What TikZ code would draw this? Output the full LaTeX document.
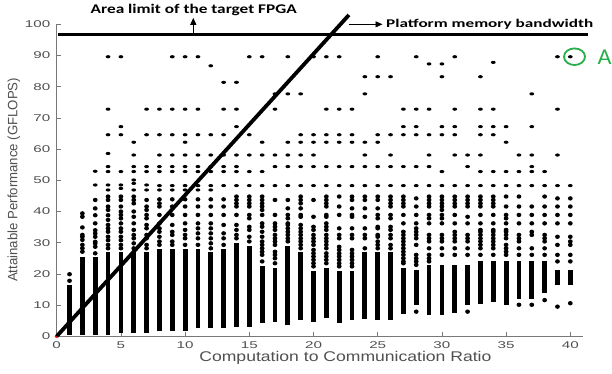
\documentclass[tikz,border=0pt]{standalone}
\usepackage{fontspec}
\setmainfont{Liberation Sans}
\newfontfamily\calib{Carlito}
\usepackage{graphicx}
\usetikzlibrary{arrows.meta}
\definecolor{axgray}{RGB}{120,120,120}
\definecolor{lblgray}{RGB}{80,80,80}
\definecolor{agreen}{RGB}{40,175,75}
\newcommand\ticklbl[1]{\scalebox{1.55}[1]{\fontsize{9.8}{10}\selectfont #1}}
\begin{document}
\begin{tikzpicture}[x=1pt,y=1pt,
  databar/.style={line width=4.8pt},
  axisline/.style={axgray,line width=0.8pt},
  thickline/.style={black,line width=3.8pt},
  limitline/.style={black,line width=2.6pt},
  annarrow/.style={black,line width=0.9pt,-{Triangle[width=6pt,length=7pt]}},
  annot/.style={inner sep=0pt,anchor=base,font=\calib\bfseries},
  ticklab/.style={inner sep=0pt,text=lblgray}]
\useasboundingbox (0,0) rectangle (612,373);
\fill[white] (0,0) rectangle (612,373);
\begin{scope}[shift={(56.7,36.7)},x=12.84pt,y=3.12pt]
  % axes
  \draw[axisline] (0,100) -- (0,0) -- (41,0);
  \foreach \yv in {0,10,...,100} {
    \draw[axisline] (0,\yv) -- ++(4pt,0);
    \node[ticklab,anchor=east] (yt\yv) at ([xshift=-6.2pt]0,\yv) {\ticklbl{\yv}};
  }
  \foreach \xv in {0,5,...,40} {
    \draw[axisline] (\xv,0) -- ++(0,4pt);
    \node[ticklab,anchor=north] (xt\xv) at ([yshift=-5.6pt]\xv,0) {\ticklbl{\xv}};
  }
  % data
  \fill[red] (0,0) ellipse [x radius=2pt,y radius=1.5pt];
  \foreach \k/\b/\d/\vals in {
1/0.5/16.5/{17.8,19.9},
2/0.4/25.5/{27.1,28.2,29.3,30.9,31.9,32.5,34.9,38.3,39.4},
3/0.4/25.5/{26.6,28.7,29.8,30.3,31.9,33.0,34.0,36.2,38.8,41.0,43.7,48.5,52.9},
4/0.4/27/{28.2,29.3,30.8,31.9,33.5,34.6,35.7,37.3,38.8,40.5,41.6,43.7,44.8,46.9,48.5,52.8,54.4,58.6,64.6,72.8,89.6},
5/1.0/27/{28.2,29.3,30.8,31.9,33.5,34.6,36.2,37.8,38.9,40.0,41.6,43.7,44.8,47.4,48.5,52.8,64.6,67.2,89.6},
6/1.2/27/{28.2,29.8,31.4,32.5,34.1,36.2,38.3,40.0,42.6,43.7,44.8,46.9,49.0,50.1,52.8,54.4,58.1,62.2},
7/1.2/27/{28.2,29.3,31.4,32.5,34.6,35.7,37.8,38.9,40.5,41.6,43.7,46.9,48.5,52.8,54.4,64.6,72.8},
8/1.8/28/{29.3,30.4,31.9,33.5,34.6,36.2,38.9,41.6,42.6,43.9,46.9,48.3,52.8,54.4,58.1,64.6,72.8},
9/1.8/28/{29.3,30.4,32.5,33.5,35.7,38.9,41.6,43.9,46.9,48.3,52.8,54.4,58.1,64.6,72.8,89.6},
10/1.8/28/{29.3,31.4,32.5,34.1,36.2,38.9,41.6,43.9,46.9,48.3,52.8,54.4,58.1,62.2,64.6,72.8,89.6},
11/2.6/28/{29.3,31.4,33.0,34.6,36.2,38.9,41.6,43.9,46.9,48.3,52.8,54.4,58.1,64.6,72.8,89.6},
12/2.6/27/{28.2,29.8,31.4,33.0,34.6,36.2,38.9,41.6,43.9,46.9,48.3,52.8,54.4,58.1,64.6,86.7},
13/2.6/28/{29.3,31.4,33.0,35.7,38.9,41.6,43.9,48.3,52.8,54.4,58.1,64.6,72.8,81.4},
14/3.1/30/{31.4,32.5,34.1,35.7,38.9,41.6,42.6,43.7,44.8,48.3,52.8,54.4,58.1,67.2,72.8,81.4},
15/3.0/29/{30.4,31.9,34.1,35.1,37.8,38.9,41.6,42.6,43.7,44.8,48.3,52.8,58.1,64.6,89.6},
16/4.2/22.6/{24.0,26.1,27.1,28.2,29.3,30.4,31.9,33.5,35.1,36.2,38.9,40.5,41.6,42.6,43.7,44.8,48.3,52.8,58.1,62.2,89.6},
17/4.6/21.8/{23.4,25.0,26.1,27.1,29.3,30.4,31.4,32.5,34.1,35.1,36.2,38.9,43.7,48.3,54.4,58.1,72.8,77.7},
18/3.5/29/{30.4,31.4,32.5,33.5,34.6,35.7,36.2,37.8,38.9,41.0,43.7,48.3,54.4,58.1,62.2,77.7,89.6},
19/5.3/27/{28.2,29.3,30.4,31.4,32.5,33.5,34.6,35.7,38.3,38.9,41.0,42.6,43.7,44.8,48.3,54.4,58.1,62.2,64.6,77.7},
20/4.6/20.8/{22.4,23.4,24.5,25.6,26.6,27.7,29.3,30.4,31.4,32.5,34.1,35.1,38.3,43.7,48.3,54.4,58.1,62.2,64.6,89.6},
21/5.8/22/{23.4,24.5,25.6,26.6,28.2,29.3,30.4,31.4,32.5,34.1,35.1,36.2,38.3,38.9,41.6,42.6,43.7,44.8,48.3,54.4,62.2,64.6,72.8,89.6},
22/4.4/21/{22.4,23.4,24.5,25.6,26.6,27.7,28.7,31.4,32.5,34.6,38.9,41.6,44.8,48.3,54.4,62.2,64.6,72.8,89.6},
23/5.2/21/{22.4,23.4,24.5,25.6,26.6,27.7,31.4,32.5,34.6,38.3,38.9,41.0,43.7,44.8,48.3,54.4,62.2,64.6,72.8},
24/5.5/27/{28.2,31.4,32.5,34.6,38.3,41.0,43.7,44.8,48.3,54.4,58.1,62.2,77.7,83.2},
25/5.2/27/{28.2,29.3,30.4,31.9,32.5,34.6,35.1,37.8,38.9,41.0,43.7,44.8,48.3,54.4,62.2,64.6,83.2,89.6},
26/5.2/27/{28.2,29.3,31.4,32.5,34.1,35.1,37.8,38.9,41.6,42.6,43.7,44.8,48.3,54.4,58.1,64.6,83.2},
27/7.0/21.8/{23.4,24.0,25.0,26.1,27.1,28.2,29.3,30.4,31.4,32.5,33.5,36.2,38.9,41.6,42.6,43.7,44.8,48.3,54.4,64.6,67.2,72.8},
28/10.1/21.3/{7.9,22.9,24.0,25.0,26.1,29.3,31.4,32.5,33.5,34.6,36.2,38.9,41.6,44.2,48.3,54.4,64.6,67.2,72.8,89.6},
29/6.8/22.9/{24.0,25.0,26.1,28.2,30.4,31.4,32.5,36.2,37.8,38.9,41.6,42.6,43.7,44.8,48.3,54.4,58.1,64.6,72.8,87.3},
30/6.8/22.9/{26.1,28.2,30.4,31.4,32.5,36.2,37.8,38.9,40.5,41.6,42.6,43.7,44.8,48.3,52.8,64.6,67.2,83.2,87.3},
31/7.5/22.9/{26.1,28.2,30.4,31.4,32.5,33.5,36.2,38.9,41.6,42.6,43.7,44.8,48.3,58.1,64.6,67.2,72.8,89.6},
32/10.1/22.9/{7.9,26.1,28.2,30.4,31.4,32.5,36.2,38.3,41.6,42.6,43.7,44.8,48.3,54.4,58.1},
33/10.5/24.0/{26.1,28.2,29.3,30.4,31.4,32.5,33.5,34.1,36.2,38.9,41.6,42.6,43.7,44.8,48.3,52.8,58.1,64.6,67.2,72.8,83.2},
34/11/24.0/{26.1,28.2,29.3,30.4,31.4,32.5,33.5,34.1,36.2,38.9,41.6,42.6,43.7,44.8,48.3,52.8,64.6,67.2,72.8,87.8},
35/10.1/24.0/{26.1,27.1,28.2,29.3,31.4,32.5,33.5,34.1,36.2,37.8,38.9,41.6,44.8,48.3,52.8,62.2,67.2},
36/12/24.0/{10.1,26.1,28.2,30.4,31.4,32.5,36.2,38.9,41.6,44.8,48.3,52.8,58.1},
37/12/24.0/{10.1,26.1,28.2,32.5,33.5,36.2,38.9,41.6,48.3,52.8,54.4,58.1,67.2,77.7},
38/14/24.0/{11.6,26.1,28.2,30.4,31.4,32.5,36.2,38.9,41.6,44.8,48.3,52.8},
39/16.4/21.3/{9.5,24.0,26.1,29.3,31.9,36.2,38.9,41.6,44.2,48.3,58.1,72.8,89.6},
40/16.4/21.3/{10.6,24.0,26.1,29.3,30.4,31.9,36.2,38.9,41.6,44.2,48.3,89.6}} {
    \draw[databar] (\k,\b) -- (\k,\d);
    \foreach \v in \vals {
      \pgfmathsetmacro\ry{\v<46 ? 2.2 : 1.6}
      \fill (\k,\v) ellipse [x radius=2.4pt,y radius=\ry pt];
    }
  }
  % lines
  \coordinate (orig) at (0,0);
  \coordinate (diagEnd) at (22.76,103.0);
  \draw[thickline] (orig) -- (diagEnd);
  \coordinate (limL) at (0.1,96.67);
  \coordinate (limR) at (41.4,96.67);
  \draw[limitline] (limL) -- (limR);
\end{scope}
% annotations
\coordinate (upS) at (193.3,338.3);
\coordinate (upE) at (193.3,355.2);
\draw[annarrow] (upS) -- (upE);
\coordinate (rtS) at (349,348.7);
\coordinate (rtE) at (382.5,348.7);
\draw[annarrow] (rtS) -- (rtE);
\node[annot] (arealbl) at (193.7,359.7) {\resizebox{206pt}{9.3pt}{Area limit of the target FPGA}};
\node[annot] (bwlbl) at (489.7,345.7) {\resizebox{207pt}{8.3pt}{Platform memory bandwidth}};
\draw[agreen,line width=1.8pt] (574.5,316.3) ellipse [x radius=10.5pt,y radius=8.3pt];
\node[inner sep=0pt,anchor=base,text=agreen,font=\calib] (alab) at (604.7,308) {\resizebox{14pt}{14.5pt}{A}};
% axis titles
\node[inner sep=0pt,anchor=base,text=lblgray] (xlab) at (345.4,11.2) {\resizebox{292pt}{10.2pt}{Computation to Communication Ratio}};
\node[inner sep=0pt,anchor=base,rotate=90,text=lblgray] (ylab) at (17.3,193.2) {\resizebox{204pt}{9.8pt}{Attainable Performance (GFLOPS)}};
\end{tikzpicture}
\end{document}
